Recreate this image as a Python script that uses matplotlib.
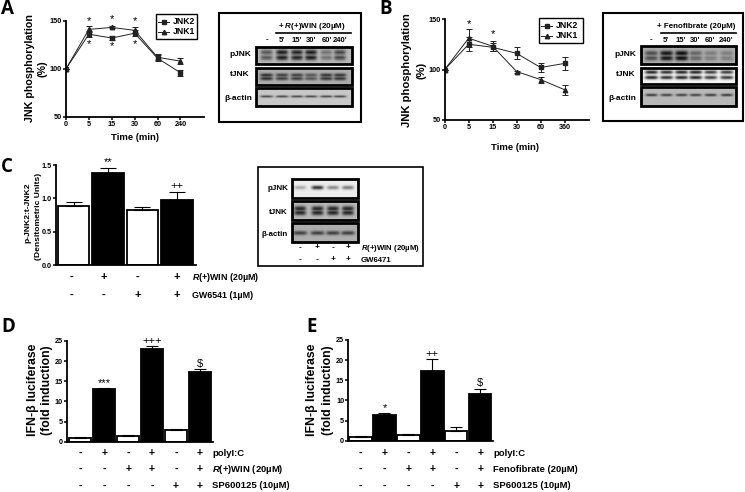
import numpy as np
import matplotlib
matplotlib.use('Agg')
import matplotlib.pyplot as plt
from matplotlib.patches import Rectangle

plt.rcParams['font.family'] = ['Liberation Sans', 'DejaVu Sans']
plt.rcParams['font.weight'] = 'bold'
plt.rcParams['mathtext.fontset'] = 'custom'
plt.rcParams['mathtext.it'] = 'Liberation Sans:italic:bold'
plt.rcParams['mathtext.rm'] = 'Liberation Sans:bold'

W, H = 745, 492

# panel A
a_labels = ['0', '5', '15', '30', '60', '240']
a_jnk2 = [100, 136, 132, 137, 111, 96]
a_jnk2_err = [0, 3, 2, 3, 3, 3]
a_jnk1 = [100, 141, 143, 140, 112, 108]
a_jnk1_err = [0, 3, 1, 3, 3, 3]

# panel B
b_labels = ['0', '5', '15', '30', '60', '360']
b_jnk2 = [100, 125, 122, 116, 102, 106]
b_jnk2_err = [0, 7, 4, 6, 4, 6]
b_jnk1 = [100, 131, 123, 98, 90, 80]
b_jnk1_err = [0, 9, 5, 1, 3, 5]

# panel C
c_vals = [0.88, 1.38, 0.82, 0.98]
c_err = [0.06, 0.08, 0.05, 0.12]
c_stars = ['', '**', '', '++']
c_colors = ['white', 'black', 'white', 'black']
c_row1 = ['-', '+', '-', '+']
c_row2 = ['-', '-', '+', '+']

# panel D
d_vals = [1.0, 13.0, 1.3, 23.0, 2.8, 17.4]
d_err = [0.1, 0.3, 0.3, 0.7, 0.3, 0.6]
d_stars = ['', '***', '', '+++', '', '$']

# panel E
e_vals = [1.0, 6.3, 1.4, 17.3, 2.5, 11.6]
e_err = [0.1, 0.5, 0.2, 2.9, 1.0, 1.3]
e_stars = ['', '*', '', '++', '', '$']

de_colors = ['white', 'black', 'white', 'black', 'white', 'black']
de_row1 = ['-', '+', '-', '+', '-', '+']
de_row2 = ['-', '-', '+', '+', '-', '+']
de_row3 = ['-', '-', '-', '-', '+', '+']

# blot band strengths, one per lane
a_pjnk = [0.55, 0.9, 0.85, 0.9, 0.4, 0.65]
a_tjnk = [0.8, 0.7, 0.7, 0.55, 0.75, 0.75]
a_actin = [0.7, 0.7, 0.7, 0.7, 0.7, 0.7]
b_pjnk = [0.6, 0.95, 1.0, 0.45, 0.3, 0.3]
b_tjnk = [0.9, 0.85, 0.9, 0.9, 0.8, 0.8]
b_actin = [0.75, 0.7, 0.7, 0.7, 0.75, 0.75]
c_pjnk = [0.3, 0.85, 0.45, 0.5]
c_tjnk = [0.85, 0.85, 0.85, 0.85]
c_actin = [0.7, 0.7, 0.7, 0.7]


def px_axes(left, top, right, bottom):
    ax = fig.add_axes([left / W, 1 - bottom / H, (right - left) / W, (bottom - top) / H])
    ax.spines['top'].set_visible(False)
    ax.spines['right'].set_visible(False)
    ax.spines['left'].set_linewidth(1.3)
    ax.spines['bottom'].set_linewidth(1.3)
    ax.tick_params(width=1.1, length=2.2, labelsize=5.2, pad=0.8)
    ax.patch.set_alpha(0)
    return ax


def time_plot(ax, labels, s2, e2, s1, e1, right):
    x = np.arange(len(labels))
    ax.errorbar(x, s2, yerr=e2, color='#222222', lw=0.7, marker='s', ms=3.4, capsize=2.4,
                elinewidth=0.7, capthick=0.7)
    ax.errorbar(x, s1, yerr=e1, color='#222222', lw=0.7, marker='^', ms=3.2, capsize=2.4,
                elinewidth=0.7, capthick=0.7)
    ax.set_xlim(0, right)
    ax.set_ylim(50, 150)
    ax.set_xticks(x)
    ax.set_xticklabels(labels)
    ax.set_yticks([50, 100, 150])


def legend_box(left, top, right, bottom):
    # the legend frame and its two rows
    over.add_patch(Rectangle((left, top), right - left, bottom - top, facecolor='white',
                             edgecolor='black', lw=1.0, zorder=4))
    rows = [('JNK2', 's', top + (bottom - top) * 0.3), ('JNK1', '^', top + (bottom - top) * 0.7)]
    for name, marker, yy in rows:
        over.plot([left + 2, left + 13], [yy, yy], color='#222222', lw=0.7, zorder=5)
        over.plot([left + 7.5], [yy], color='#222222', marker=marker, ms=3.2, zorder=5)
        t(left + 17, yy, name, size=6.2, ha='left')


def bar_plot(ax, vals, err, colors, stars, xlim, ylim, width, cap, lw=1.3, size=8):
    x = np.arange(len(vals))
    ax.bar(x, vals, width=width, color=colors, edgecolor='black', linewidth=lw,
           yerr=[np.zeros(len(vals)), err], capsize=cap,
           error_kw={'elinewidth': 0.8, 'capthick': 0.8, 'ecolor': 'black'})
    for i in x:
        if stars[i]:
            s = stars[i].replace('$', r'\$')
            ax.text(i, vals[i] + err[i] + (ylim[1] * 0.005), s, ha='center', va='bottom',
                    fontsize=size, fontweight='normal')
    ax.set_xlim(*xlim)
    ax.set_ylim(*ylim)
    ax.set_xticks([])


def blot(left, top, right, bottom, bands, lanes, bg, rows, sigma, lw=2.0, bw=11):
    # gray gel image with soft dark bands, drawn from the band strengths
    nx, ny = int((right - left) * 3), int((bottom - top) * 3)
    xx, yy = np.meshgrid(np.linspace(left, right, nx), np.linspace(top, bottom, ny))
    img = np.zeros_like(xx)
    for lane, strength in zip(lanes, bands):
        px = np.exp(-((xx - lane) / bw) ** 4)
        for r in rows:
            py = np.exp(-((yy - (top + r * (bottom - top))) / sigma) ** 2)
            img = np.maximum(img, strength * px * py)
    gel = bg * (1 - img) + 0.05 * img
    over.imshow(gel, extent=(left, right, bottom, top), cmap='gray', vmin=0, vmax=1,
                aspect='auto', zorder=2, interpolation='bilinear')
    over.add_patch(Rectangle((left, top), right - left, bottom - top, fill=False,
                             edgecolor='black', lw=lw, zorder=3))


fig = plt.figure(figsize=(W / 100, H / 100), dpi=100)

# overlay in pixel coordinates for the letters, blots and condition rows
over = fig.add_axes([0, 0, 1, 1], zorder=10)
over.axis('off')


def t(x, y, s, size=6, ha='center', va='center', **kw):
    over.text(x, y, s, fontsize=size, ha=ha, va=va, zorder=6, **kw)


for letter, lx, ly in [('A', 7.5, 9), ('B', 386, 9), ('C', 7, 167), ('D', 8, 327), ('E', 311.5, 327)]:
    t(lx, ly, letter, size=13.5, family='Open Sans')

# A
ax = px_axes(66, 20.7, 204, 117)
time_plot(ax, a_labels, a_jnk2, a_jnk2_err, a_jnk1, a_jnk1_err, 6.03)
t(135, 137, 'Time (min)', size=6.8)
t(30, 68.5, 'JNK phosphorylation', size=7.7, rotation=90)
t(42.5, 68.5, '(%)', size=7.7, rotation=90)
legend_box(156, 14, 197, 39)
for i, yy in [(1, 21), (2, 19.5), (3, 21), (1, 44), (2, 46), (3, 44)]:
    t(66 + i * 22.9, yy, '*', size=8, fontweight='normal')

# B
ax = px_axes(444.7, 19, 589, 120)
time_plot(ax, b_labels, b_jnk2, b_jnk2_err, b_jnk1, b_jnk1_err, 6.02)
t(515, 148, 'Time (min)', size=6.8)
t(406.5, 70, 'JNK phosphorylation', size=8.1, rotation=90)
t(421.5, 70, '(%)', size=8.1, rotation=90)
legend_box(539, 18, 583, 43)
for i, yy in [(1, 24), (2, 34)]:
    t(444.7 + i * 24, yy, '*', size=8, fontweight='normal')

# C
ax = px_axes(56, 165, 195.7, 265)
bar_plot(ax, c_vals, c_err, c_colors, c_stars, (-0.51, 3.55), (0, 1.5), 0.92, 5.6)
ax.set_yticks([0, 0.5, 1.0, 1.5])
ax.set_yticklabels(['0.0', '0.5', '1.0', '1.5'])
t(28, 213, 'p-JNK2:t-JNK2', size=6.1, rotation=90)
t(38, 216, '(Densitometric Units)', size=6.1, rotation=90)
c_row_x = [72, 103.5, 137.5, 177]
for i, s in enumerate(c_row1):
    t(c_row_x[i], 277, s, size=8)
for i, s in enumerate(c_row2):
    t(c_row_x[i], 295, s, size=8)
t(191.7, 277, r'$\mathit{R}$(+)WIN (20µM)', size=6.4, ha='left')
t(191.7, 295, 'GW6541 (1µM)', size=6.4, ha='left')

# D
ax = px_axes(66.7, 341, 213, 441.7)
bar_plot(ax, d_vals, d_err, de_colors, d_stars, (-0.57, 5.54), (0, 25), 0.93, 4.2)
ax.set_yticks([0, 5, 10, 15, 20, 25])
t(33, 390, 'IFN-β luciferase', size=8.8, rotation=90)
t(47, 390, '(fold induction)', size=8.8, rotation=90)
for row, yy in zip([de_row1, de_row2, de_row3], [453, 469, 486]):
    for i, s in enumerate(row):
        t(80.4 + i * 23.9, yy, s, size=7.5)
t(212, 453, 'polyI:C', size=6.8, ha='left')
t(212, 469, r'$\mathit{R}$(+)WIN (20µM)', size=6.8, ha='left')
t(212, 486, 'SP600125 (10µM)', size=6.8, ha='left')

# E
ax = px_axes(348.3, 340, 493, 440.7)
bar_plot(ax, e_vals, e_err, de_colors, e_stars, (-0.51, 5.53), (0, 25), 0.93, 4.2)
ax.set_yticks([0, 5, 10, 15, 20, 25])
t(312.5, 390, 'IFN-β luciferase', size=8.8, rotation=90)
t(328, 390, '(fold induction)', size=8.8, rotation=90)
for row, yy in zip([de_row1, de_row2, de_row3], [453, 469, 486]):
    for i, s in enumerate(row):
        t(360.5 + i * 24, yy, s, size=7.5)
t(493, 453, 'polyI:C', size=6.8, ha='left')
t(493, 469, 'Fenofibrate (20µM)', size=6.8, ha='left')
t(493, 486, 'SP600125 (10µM)', size=6.8, ha='left')

# blot box A
over.add_patch(Rectangle((219, 13), 141.7, 108.7, fill=False, edgecolor='black', lw=1.5))
a_lanes = [266.5, 282, 297, 311, 326.5, 340]
blot(256, 46.7, 352, 64, a_pjnk, a_lanes, 0.72, [0.35, 0.65], 2.6, bw=6)
blot(256, 68, 352, 85, a_tjnk, a_lanes, 0.68, [0.42, 0.62], 1.9, bw=6.5)
blot(256, 88, 352, 106, a_actin, a_lanes, 0.78, [0.47], 1.1, bw=6.5)
t(251, 55, 'pJNK', size=6, ha='right')
t(250, 75, 'tJNK', size=6, ha='right')
t(252, 99, 'β-actin', size=6, ha='right')
t(277.5, 26, r'+ $\mathit{R}$(+)WIN (20µM)', size=5.8, ha='left')
over.plot([276, 351], [33, 33], color='black', lw=1.2)
for lane, s in zip(a_lanes, ['-', "5'", "15'", "30'", "60'", "240'"]):
    t(lane, 40, s, size=5.5)

# blot box B
over.add_patch(Rectangle((603, 13), 140, 107.7, fill=False, edgecolor='black', lw=1.5))
b_lanes = [651, 666, 681, 695, 710, 726]
blot(640.7, 46, 736, 64, b_pjnk, b_lanes, 0.68, [0.4, 0.68], 2.6, bw=6.5)
blot(640.7, 67.7, 736, 84, b_tjnk, b_lanes, 0.96, [0.3, 0.62], 1.8, bw=6.5)
blot(640.7, 87, 736, 106, b_actin, b_lanes, 0.72, [0.42], 1.3, bw=6)
t(636.5, 54, 'pJNK', size=6, ha='right')
t(636, 75, 'tJNK', size=6, ha='right')
t(636, 99, 'β-actin', size=6, ha='right')
t(656.7, 26, '+ Fenofibrate (20µM)', size=5.8, ha='left')
over.plot([661, 736], [33, 33], color='black', lw=1.2)
for lane, s in zip(b_lanes, ['-', "5'", "15'", "30'", "60'", "240'"]):
    t(lane, 40, s, size=5.5)

# blot box C
over.add_patch(Rectangle((257.7, 166.7), 165, 99, fill=False, edgecolor='black', lw=1.2))
c_lanes = [300, 317.5, 333, 348]
blot(292, 179, 358, 198, c_pjnk, c_lanes, 0.93, [0.45], 2.0, bw=6)
blot(292, 201, 358, 220, c_tjnk, c_lanes, 0.72, [0.4, 0.62], 2.6, bw=6)
blot(292, 222.7, 358, 242, c_actin, c_lanes, 0.68, [0.55], 2.0, bw=7)
t(288, 188, 'pJNK', size=5.8, ha='right')
t(288, 212, 'tJNK', size=5.8, ha='right')
t(288, 234, 'β-actin', size=5.8, ha='right')
for lane, s1, s2 in zip(c_lanes, ['-', '+', '-', '+'], ['-', '-', '+', '+']):
    t(lane, 248, s1, size=6)
    t(lane, 260, s2, size=6)
t(361, 248.5, r'$\mathit{R}$(+)WIN (20µM)', size=5.6, ha='left')
t(361, 260, 'GW6471', size=5.6, ha='left')

over.set_xlim(0, W)
over.set_ylim(H, 0)

fig.savefig('out.png', dpi=100)
